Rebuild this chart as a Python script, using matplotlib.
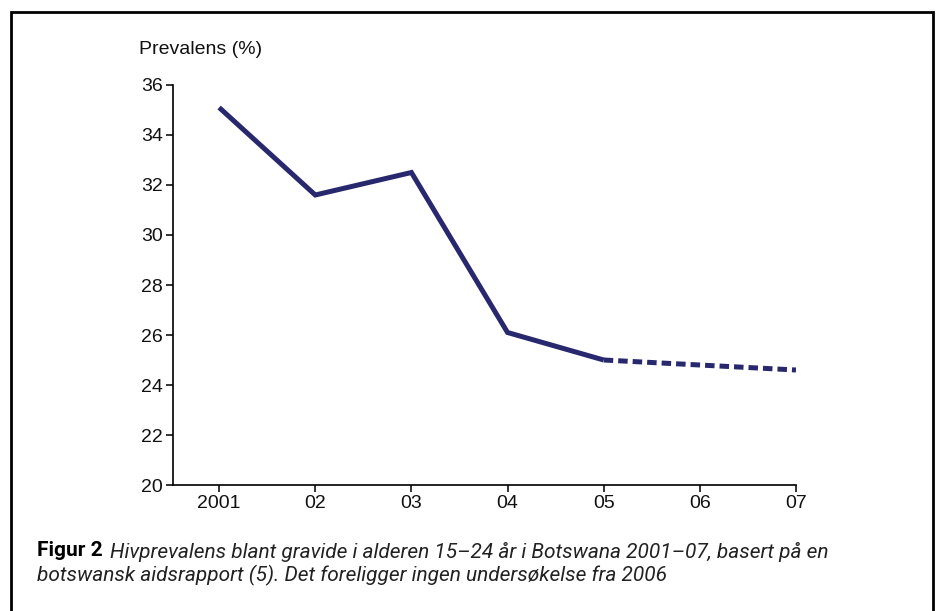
import matplotlib
matplotlib.use("Agg")
import matplotlib.pyplot as plt
from matplotlib.patches import Rectangle

# data
years = [2001, 2002, 2003, 2004, 2005]
prevalence = [35.1, 31.6, 32.5, 26.1, 25.0]
# no survey in 2006: dashed segment 2005 -> 2007
gap_years = [2005, 2007]
gap_prevalence = [25.0, 24.6]
xtick_years = [2001, 2002, 2003, 2004, 2005, 2006, 2007]
xtick_labels = ["2001", "02", "03", "04", "05", "06", "07"]
yticks = [20, 22, 24, 26, 28, 30, 32, 34, 36]

navy = "#28286e"
plt.rcParams["font.family"] = ["Liberation Sans", "DejaVu Sans"]

fig = plt.figure(figsize=(9.39, 6.11), dpi=100)
ax = fig.add_axes([0.1842, 0.2062, 0.6635, 0.6547])

ax.plot(years, prevalence, color=navy, lw=3.6, solid_capstyle="butt",
        solid_joinstyle="miter")
ax.plot(gap_years, gap_prevalence, color=navy, lw=3.6, dashes=(1.9, 1.0))

ax.set_xlim(2000.52, 2007)
ax.set_ylim(20, 36)
ax.set_xticks(xtick_years)
ax.set_xticklabels(xtick_labels)
ax.set_yticks(yticks)

for side in ["top", "right"]:
    ax.spines[side].set_visible(False)
for side in ["left", "bottom"]:
    ax.spines[side].set_linewidth(1.2)
ax.tick_params(axis="both", length=5, width=1.2, labelsize=14, pad=2,
               colors="#111111")

fig.text(139 / 939, 1 - 50 / 611, "Prevalens (%)", fontsize=14,
         ha="left", va="center", color="#111111")

# caption
cap_font = ["Roboto", "DejaVu Sans"]
fig.text(37 / 939, 1 - 551 / 611, "Figur 2", fontsize=15, fontweight="bold",
         ha="left", va="center", family=cap_font)
fig.text(110 / 939, 1 - 552 / 611,
         "Hivprevalens blant gravide i alderen 15–24 år i Botswana 2001–07, basert på en",
         fontsize=15, style="italic", ha="left", va="center",
         family=cap_font, color="#222222")
fig.text(37 / 939, 1 - 575 / 611,
         "botswansk aidsrapport (5). Det foreligger ingen undersøkelse fra 2006",
         fontsize=15, style="italic", ha="left", va="center",
         family=cap_font, color="#222222")

# outer frame (bottom edge falls outside the picture)
fig.patches.append(Rectangle((11 / 939, -0.05), 922 / 939, 1.05 - 12 / 611,
                             transform=fig.transFigure, fill=False,
                             edgecolor="black", lw=2))

fig.savefig("out.png", dpi=100)
